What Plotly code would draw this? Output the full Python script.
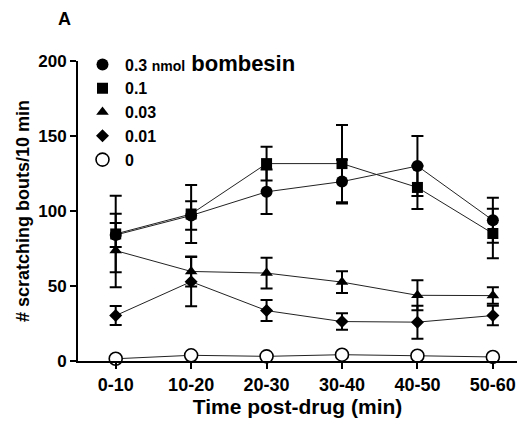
import plotly.graph_objects as go

categories = ["0-10", "10-20", "20-30", "30-40", "40-50", "50-60"]
labels = ["<b>0.3 </b><span style='font-size:14px'><b>nmol</b></span><span style='font-size:22px'><b> bombesin</b></span>",
          "<b>0.1</b>", "<b>0.03</b>", "<b>0.01</b>", "<b>0</b>"]

d03 = [84, 97, 112.8, 119.6, 130, 93.8]
d03_err = [8, 9.5, 14.8, 14.6, 20, 15]
d01 = [84.7, 98, 131.6, 131.6, 115.7, 85]
d01_err = [25.5, 19.4, 11.3, 25.7, 14.4, 16.5]
d003 = [73.6, 59.7, 58.6, 52.6, 43.8, 43.6]
d003_err = [24.5, 10, 10.3, 7.2, 10, 5.5]
d001 = [30.3, 52.9, 33.6, 26.3, 25.9, 30.3]
d001_err = [6.3, 16.4, 7, 5.5, 11, 6.5]
d0 = [1.5, 3.8, 3.1, 4.2, 3.5, 2.7]
d0_err = [0, 0, 0, 0, 0, 0]

series = [
    (d03, d03_err, "circle", 12),
    (d01, d01_err, "square", 11),
    (d003, d003_err, "triangle-up", 11),
    (d001, d001_err, "diamond", 10),
    (d0, d0_err, "circle-open", 13),
]

xs = list(range(len(categories)))
fig = go.Figure()

for vals, errs, sym, size in series:
    fig.add_trace(go.Scatter(x=xs, y=vals, mode="lines", showlegend=False,
                             line=dict(color="#222", width=1), cliponaxis=False,
                             hoverinfo="skip"))

for (vals, errs, sym, size), lab in zip(series, labels):
    if sym == "circle-open":
        marker = dict(symbol="circle", size=size, color="white",
                      line=dict(color="black", width=1.6))
    else:
        marker = dict(symbol=sym, size=size, color="black",
                      line=dict(color="black", width=0))
    fig.add_trace(go.Scatter(
        x=xs, y=vals, mode="markers", name=lab, marker=marker, cliponaxis=False,
        error_y=dict(type="data", array=errs, visible=True, color="black",
                     thickness=2, width=6),
    ))

PL, PR, PT, PB = 78, 11, 61, 62
pw, ph = 528 - PL - PR, 423 - PT - PB

fig.update_layout(
    width=528, height=423,
    margin=dict(l=PL, r=PR, t=PT, b=PB),
    paper_bgcolor="white", plot_bgcolor="white",
    font=dict(family="Liberation Sans, Arial, sans-serif", color="black", size=16),
    showlegend=True,
    legend=dict(x=(80 - PL) / pw, y=1.045, xanchor="left", yanchor="top",
                bgcolor="rgba(0,0,0,0)", font=dict(size=16),
                tracegroupgap=0, itemwidth=35),
    annotations=[dict(text="<b>A</b>", x=(64 - PL) / pw, y=(PT + ph - 19) / ph,
                      xref="paper", yref="paper", showarrow=False,
                      font=dict(size=18), xanchor="center", yanchor="middle")],
)

fig.update_xaxes(
    range=[-0.5, 5.32], tickmode="array", tickvals=xs, ticktext=[f"<b>{c}</b>" for c in categories],
    showline=True, linecolor="black", linewidth=2, ticks="outside", ticklen=6,
    tickwidth=2, tickcolor="black", showgrid=False, zeroline=False,
    tickfont=dict(size=18),
    title=dict(text="<b>Time post-drug (min)</b>", font=dict(size=21), standoff=2),
)
fig.update_yaxes(
    range=[0, 200], tickvals=[0, 50, 100, 150, 200], ticktext=["<b>0</b>", "<b>50</b>", "<b>100</b>", "<b>150</b>", "<b>200</b>"],
    showline=True, linecolor="black", linewidth=2, ticks="outside", ticklen=6,
    tickwidth=2, tickcolor="black", showgrid=False, zeroline=False,
    tickfont=dict(size=17),
    title=dict(text="<b># scratching bouts/10 min</b>", font=dict(size=18), standoff=4),
)

fig.write_html("out.html")
